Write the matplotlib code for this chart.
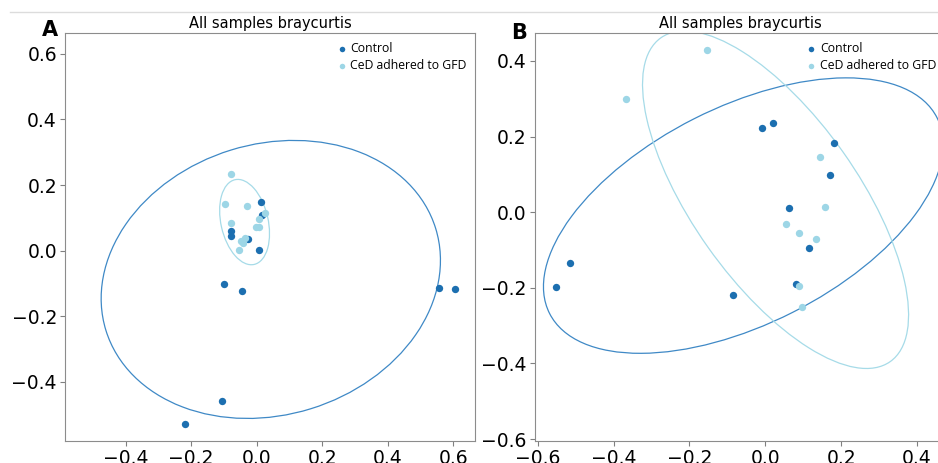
import matplotlib
matplotlib.use('Agg')
import matplotlib.pyplot as plt
from matplotlib.patches import Ellipse
from matplotlib.lines import Line2D

CTRL_COLOR = '#1c6fb0'
CED_COLOR = '#9dd6e6'
CTRL_LINE = '#3f89c6'
CED_LINE = '#a6dbe8'
groups = ['Control', 'CeD adhered to GFD']

# panel A coordinates
a_ctrl_x = [-0.218, -0.107, -0.101, -0.044, 0.557, 0.606, 0.012, 0.016, -0.079, -0.078, -0.028, 0.007]
a_ctrl_y = [-0.529, -0.458, -0.101, -0.123, -0.113, -0.116, 0.149, 0.108, 0.061, 0.044, 0.035, 0.001]
a_ced_x = [-0.078, -0.097, -0.030, 0.024, 0.006, -0.078, -0.002, 0.007, -0.037, -0.049, -0.041, -0.054]
a_ced_y = [0.233, 0.142, 0.137, 0.115, 0.096, 0.084, 0.071, 0.071, 0.039, 0.029, 0.024, 0.001]

# panel B coordinates
b_ctrl_x = [-0.515, -0.551, -0.086, -0.009, 0.020, 0.182, 0.170, 0.063, 0.114, 0.080]
b_ctrl_y = [-0.135, -0.198, -0.220, 0.222, 0.235, 0.183, 0.098, 0.011, -0.096, -0.190]
b_ced_x = [-0.154, -0.368, 0.144, 0.158, 0.055, 0.089, 0.134, 0.089, 0.096]
b_ced_y = [0.429, 0.300, 0.146, 0.013, -0.031, -0.054, -0.072, -0.196, -0.251]

# ellipses: center x, center y, width, height, angle
a_ctrl_ell = [0.043, -0.088, 1.053, 0.826, 17.2]
a_ced_ell = [-0.037, 0.087, 0.265, 0.144, 102.8]
b_ctrl_ell = [-0.058, -0.009, 1.145, 0.574, 26.9]
b_ced_ell = [0.027, 0.033, 1.048, 0.436, -54.8]

fig = plt.figure(figsize=(9.38, 4.63), dpi=100)

def draw_panel(ax, cx, cy, dx, dy, e_ctrl, e_ced, xlim, ylim):
    ax.scatter(cx, cy, s=28, color=CTRL_COLOR, label=groups[0], zorder=3, linewidths=0)
    ax.scatter(dx, dy, s=28, color=CED_COLOR, label=groups[1], zorder=3, linewidths=0)
    for e, c in [(e_ctrl, CTRL_LINE), (e_ced, CED_LINE)]:
        ax.add_patch(Ellipse((e[0], e[1]), e[2], e[3], angle=e[4],
                             fill=False, edgecolor=c, lw=0.9, zorder=2))
    ax.set_xlim(xlim)
    ax.set_ylim(ylim)
    ax.set_title('All samples braycurtis', fontsize=10.5, pad=3.5)
    ax.tick_params(labelsize=13.5, color='#808080', length=3.5, pad=2.5)
    for s in ax.spines.values():
        s.set_color('#8c8c8c')
    ax.legend(loc='upper right', frameon=False, prop={'family': 'Open Sans', 'size': 8.8},
              markerscale=0.75, handletextpad=0.1, labelspacing=0.35,
              borderaxespad=0.3, handlelength=1.2)

ax1 = fig.add_axes([0.0696, 0.0475, 0.4368, 0.8806])
draw_panel(ax1, a_ctrl_x, a_ctrl_y, a_ced_x, a_ced_y, a_ctrl_ell, a_ced_ell,
           (-0.584, 0.666), (-0.581, 0.663))
ax1.set_xticks([-0.4, -0.2, 0.0, 0.2, 0.4, 0.6])
ax1.set_yticks([-0.4, -0.2, 0.0, 0.2, 0.4, 0.6])

ax2 = fig.add_axes([0.5704, 0.0475, 0.4368, 0.8806])
draw_panel(ax2, b_ctrl_x, b_ctrl_y, b_ced_x, b_ced_y, b_ctrl_ell, b_ced_ell,
           (-0.607, 0.473), (-0.605, 0.473))
ax2.set_xticks([-0.6, -0.4, -0.2, 0.0, 0.2, 0.4])
ax2.set_yticks([-0.6, -0.4, -0.2, 0.0, 0.2, 0.4])

fig.text(49.5 / 938, 1 - 36 / 463, 'A', fontsize=15, fontweight='bold', ha='center', va='baseline')
fig.text(519 / 938, 1 - 39 / 463, 'B', fontsize=15, fontweight='bold', ha='center', va='baseline')

fig.add_artist(Line2D([10 / 938, 1], [1 - 12.3 / 463] * 2, color='#dcdcdc', lw=1))

fig.savefig('out.png', dpi=100)
